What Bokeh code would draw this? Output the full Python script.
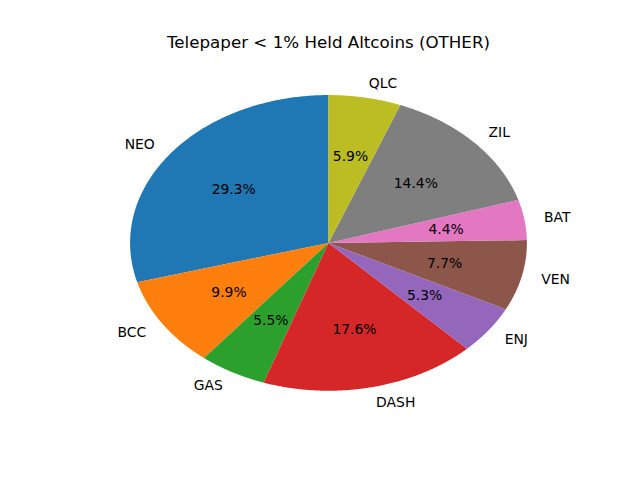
import numpy as np
from bokeh.plotting import figure
from bokeh.models import Range1d, ColumnDataSource
from bokeh.core.properties import value
from bokeh.embed import file_html
from bokeh.resources import INLINE

labels = ["NEO", "BCC", "GAS", "DASH", "ENJ", "VEN", "BAT", "ZIL", "QLC"]
shares = [29.3, 9.9, 5.5, 17.6, 5.3, 7.7, 4.4, 14.4, 5.9]
colors = ["#1f77b4", "#ff7f0e", "#2ca02c", "#d62728", "#9467bd",
          "#8c564b", "#e377c2", "#7f7f7f", "#bcbd22"]
title_text = "Telepaper < 1% Held Altcoins (OTHER)"

W, H = 624, 464
cx, cy = 328.0, 242.4
rx, ry = 198.4, 147.84

p = figure(width=W, height=H, output_backend="svg", toolbar_location=None,
           x_range=Range1d(-cx / rx, (W - cx) / rx),
           y_range=Range1d(-(H - cy) / ry, cy / ry),
           min_border=0, min_border_left=0, min_border_right=0,
           min_border_top=0, min_border_bottom=0)
p.axis.visible = False
p.grid.visible = False
p.outline_line_color = None
p.background_fill_color = "white"
p.border_fill_color = "white"

vals = np.array(shares, dtype=float)
frac = vals / vals.sum()
start = np.pi / 2 + 2 * np.pi * np.concatenate([[0], np.cumsum(frac)[:-1]])
end = start + 2 * np.pi * frac

xs, ys = [], []
for a0, a1 in zip(start, end):
    t = np.linspace(a0, a1, 200)
    xs.append(np.concatenate([[0], np.cos(t)]))
    ys.append(np.concatenate([[0], np.sin(t)]))
p.patches(xs=xs, ys=ys, fill_color=colors, line_color=None)

mid = (start + end) / 2
lx = 1.1 * np.cos(mid)
ly = 1.1 * np.sin(mid)
align = ["left" if x > 0 else "right" for x in lx]
lsrc = ColumnDataSource(dict(x=lx, y=ly, t=labels, a=align))
p.text(x="x", y="y", text="t", text_align="a", text_baseline="middle",
       source=lsrc, text_font=value("DejaVu Sans"), text_font_size="13.9px",
       text_color="black")

px = 0.6 * np.cos(mid)
py = 0.6 * np.sin(mid)
pct = ["%.1f%%" % v for v in vals]
psrc = ColumnDataSource(dict(x=px, y=py, t=pct))
p.text(x="x", y="y", text="t", text_align="center", text_baseline="middle",
       source=psrc, text_font=value("DejaVu Sans"), text_font_size="13.9px",
       text_color="black")

p.text(x=[0], y=[(cy - 41.6) / ry], text=[title_text], text_align="center",
       text_baseline="alphabetic", text_font=value("DejaVu Sans"),
       text_font_size="16.7px", text_color="black")

open("out.html", "w").write(file_html(p, INLINE))
